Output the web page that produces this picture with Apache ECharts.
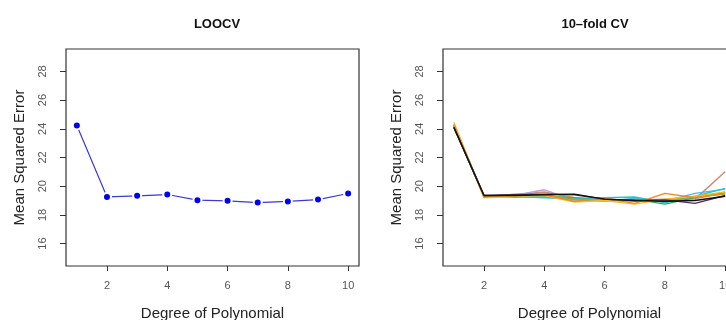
<!DOCTYPE html>
<html><head><meta charset="utf-8">
<script src="https://cdn.jsdelivr.net/npm/echarts@6/dist/echarts.min.js"></script>
<style>html,body{margin:0;padding:0;background:#fff}#c{width:726px;height:320px}</style>
</head><body><div id="c"></div>
<script>
const degrees = [1,2,3,4,5,6,7,8,9,10];
const xTicks = [2,4,6,8,10];
const yTicks = [16,18,20,22,24,26,28];
const loocv = [24.23,19.25,19.33,19.42,19.03,18.98,18.86,18.94,19.07,19.49];
const cv1  = [24.10,19.35,19.35,19.40,19.45,19.10,19.00,18.95,19.00,19.30];
const cv2  = [24.30,19.25,19.45,19.40,18.95,19.15,18.80,19.50,19.20,19.50];
const cv3  = [24.45,19.20,19.30,19.35,18.90,19.00,18.75,19.10,19.30,19.60];
const cv4  = [24.20,19.30,19.30,19.25,19.05,18.95,19.15,18.95,19.50,19.80];
const cv5  = [24.15,19.30,19.25,19.30,19.20,19.00,19.10,18.75,19.20,19.55];
const cv6  = [24.20,19.30,19.35,19.75,19.05,19.10,19.00,19.00,19.10,19.60];
const cv7  = [24.30,19.30,19.40,19.60,19.20,19.00,19.05,19.10,19.10,21.00];
const cv8  = [24.25,19.35,19.30,19.20,19.15,19.20,19.25,18.85,19.30,19.85];
const cv9  = [24.10,19.35,19.40,19.45,19.40,19.10,19.00,19.05,18.80,19.35];
const cv10 = [24.20,19.25,19.35,19.40,19.10,19.05,18.95,19.05,19.25,19.45];
const cvRuns = [cv7,cv6,cv5,cv4,cv8,cv10,cv3,cv2,cv9,cv1];
const cvColors = ['#d08a70','#b8a0d8','#3aa060','#5ab4e8','#20c8c8','#a0a040','#f0c020','#f08a20','#503060','#111111'];

const font = 'Liberation Sans, Arial, sans-serif';
function xAxis(gi){
  return {type:'value', gridIndex:gi, min:0.64, max:10.36,
    name:'Degree of Polynomial', nameLocation:'middle', nameGap:40,
    nameTextStyle:{fontFamily:font,fontSize:15,color:'#222'},
    axisLine:{show:false}, splitLine:{show:false},
    axisTick:{show:true,inside:false,length:5,customValues:xTicks,lineStyle:{color:'#333'}},
    axisLabel:{customValues:xTicks,margin:14,fontFamily:font,fontSize:11,color:'#555'}};
}
function yAxis(gi){
  return {type:'value', gridIndex:gi, min:14.44, max:29.56,
    name:'Mean Squared Error', nameLocation:'middle', nameGap:39,
    nameTextStyle:{fontFamily:font,fontSize:15,color:'#222'},
    axisLine:{show:false}, splitLine:{show:false},
    axisTick:{show:true,inside:false,length:6,customValues:yTicks,lineStyle:{color:'#333'}},
    axisLabel:{customValues:yTicks,rotate:90,margin:18,fontFamily:font,fontSize:11,color:'#555'}};
}
const series = [{
  type:'line', xAxisIndex:0, yAxisIndex:0,
  data: degrees.map((d,i)=>[d,loocv[i]]),
  lineStyle:{color:'#3a3ad0',width:1.2},
  symbol:'circle', symbolSize:8,
  itemStyle:{color:'#0000ee',borderColor:'#fff',borderWidth:2},
  z:3
}];
cvRuns.forEach((run,k)=>{
  series.push({type:'line', xAxisIndex:1, yAxisIndex:1,
    data: degrees.map((d,i)=>[d,run[i]]),
    lineStyle:{color:cvColors[k],width:1.4}, symbol:'none', z:2+k*0.01});
});
const chart = echarts.init(document.getElementById('c'),null,{renderer:'canvas'});
chart.setOption({
  animation:false,
  backgroundColor:'#fff',
  title:[
    {text:'LOOCV', left:212, top:13, textAlign:'center', textStyle:{fontFamily:font,fontSize:13,fontWeight:'bold',color:'#111'}},
    {text:'10\u2013fold CV', left:590, top:13, textAlign:'center', textStyle:{fontFamily:font,fontSize:13,fontWeight:'bold',color:'#111'}}
  ],
  grid:[
    {left:66, top:49, width:293, height:217, show:true, borderColor:'#333', borderWidth:1.2, backgroundColor:'transparent', outerBoundsMode:'none', containLabel:false},
    {left:443, top:49, width:293, height:217, show:true, borderColor:'#333', borderWidth:1.2, backgroundColor:'transparent', outerBoundsMode:'none', containLabel:false}
  ],
  xAxis:[xAxis(0), xAxis(1)],
  yAxis:[yAxis(0), yAxis(1)],
  series: series
});
</script></body></html>
